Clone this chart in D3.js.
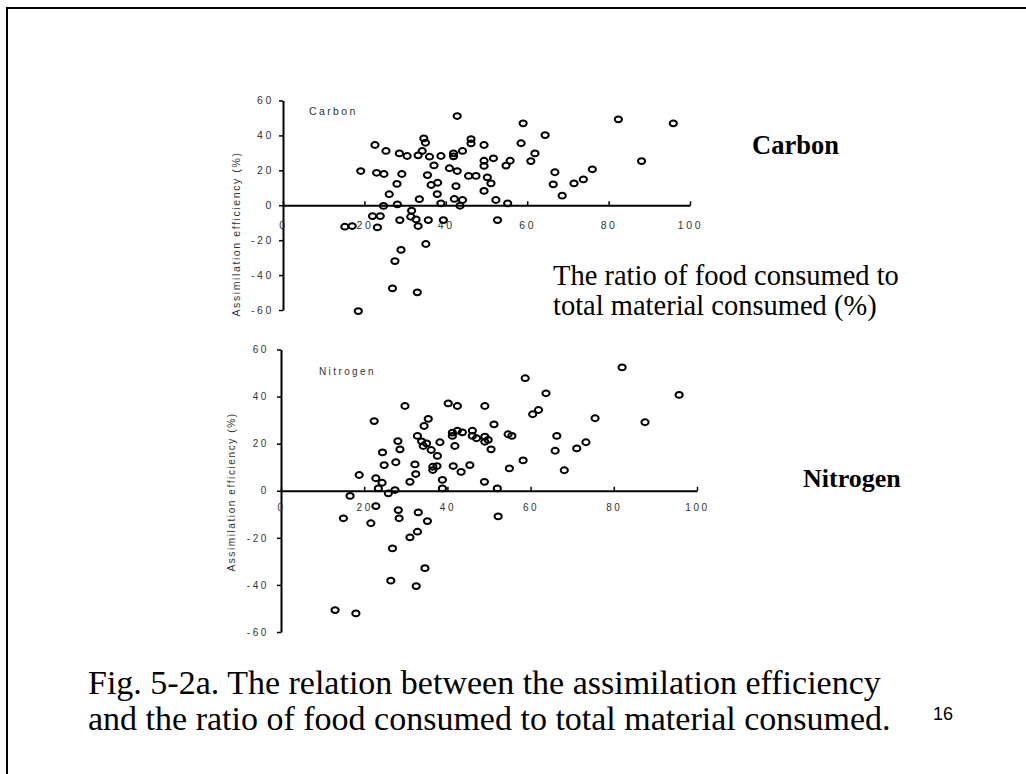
<!DOCTYPE html>
<html>
<head>
<meta charset="utf-8">
<script src="https://cdn.jsdelivr.net/npm/d3@7"></script>
<style>
  html, body { margin: 0; padding: 0; background: #fff; }
  svg { display: block; }
  .tick text, .lbl-small { font-family: "Liberation Sans Narrow", "Arial Narrow", "Liberation Sans", Arial, sans-serif; fill: #333; }
  .serif { font-family: "Liberation Serif", "Times New Roman", serif; fill: #000; }
</style>
</head>
<body>
<svg id="slide" width="1026" height="774"></svg>
<script>
// Ratio of food consumed to total material consumed (%) vs assimilation efficiency (%)
const carbonX = [42.8,22.6,25.3,28.6,30.5,33.2,34.2,34.6,35.0,36.0,38.8,41.9,41.9,44.1,46.2,46.2,19.1,23.0,24.8,29.2,37.1,35.5,40.9,42.8,45.6,47.4,28.0,38.0,36.4,42.5,26.1,37.9,33.5,42.1,44.1,24.7,28.1,38.8,43.5,22.0,23.9,31.6,31.4,32.7,28.7,35.7,39.4,15.2,17.0,23.2,33.2,35.1,29.0,27.5,26.9,33.0,18.5,59.0,82.4,95.9,64.4,49.4,58.5,61.9,51.7,55.8,49.4,49.4,54.8,60.9,88.1,66.8,76.0,50.2,51.1,66.4,71.5,73.8,49.4,68.6,52.3,55.2,52.7];
const carbonY = [51.1,34.5,31.1,29.7,28.2,28.6,31.1,38.3,35.8,27.8,28.2,29.7,28.0,31.1,37.9,35.4,19.6,18.6,17.9,17.9,22.8,17.3,21.2,19.6,16.8,16.8,12.2,12.9,11.6,11.0,6.3,6.4,3.5,3.6,3.0,-0.4,0.5,1.1,-0.3,-6.2,-6.2,-3.1,-6.6,-8.1,-8.5,-8.5,-8.5,-12.3,-11.9,-12.7,-11.9,-22.2,-25.6,-32.0,-47.6,-49.9,-60.6,46.9,49.2,46.9,40.2,34.5,35.5,29.7,26.9,25.5,25.5,22.5,22.7,25.3,25.3,18.9,20.6,16.0,12.5,12.0,12.5,14.8,8.2,5.5,3.0,1.1,-8.5];

const nitrogenX = [29.8,22.4,35.4,34.4,32.8,33.8,35.0,34.2,28.1,28.6,24.4,24.8,27.6,38.2,36.1,37.6,36.5,37.5,36.5,32.2,40.2,42.4,41.2,41.2,42.4,43.6,41.8,41.4,43.3,45.4,18.8,22.8,23.4,24.3,25.8,27.4,31.0,32.4,38.8,38.8,16.6,22.8,15.0,21.6,28.2,28.4,33.0,35.2,32.8,31.0,26.8,34.6,26.4,32.5,13.0,18.0,49.0,46.0,46.0,47.0,49.0,49.0,49.8,48.9,82.0,58.7,95.7,63.7,75.5,61.9,60.5,87.5,51.2,50.5,54.6,55.5,66.3,65.9,71.1,73.3,58.2,54.9,68.1,52.0,52.2];
const nitrogenY = [36.0,29.6,30.5,27.5,23.3,21.0,20.1,19.0,21.1,17.6,16.3,10.9,12.1,20.6,17.3,14.8,10.2,10.5,8.8,11.2,37.1,36.0,24.7,23.3,25.5,24.8,19.0,10.5,8.0,10.9,6.7,5.3,1.0,3.4,-1.1,0.3,3.8,7.1,4.6,1.0,-2.2,-6.5,-11.7,-13.8,-8.2,-11.7,-9.2,-12.9,-17.4,-19.8,-24.5,-32.9,-38.2,-40.5,-50.7,-52.1,36.0,25.5,23.3,22.3,23.0,20.8,21.6,3.8,52.4,47.8,40.7,41.4,30.8,34.3,32.5,29.1,28.2,17.6,24.0,23.3,23.3,17.0,18.0,20.6,12.9,9.5,8.7,1.0,-10.9];

const xTicks = [0, 20, 40, 60, 80, 100];
const yTicks = [-60, -40, -20, 0, 20, 40, 60];
const yTitle = "Assimilation efficiency (%)";

const svg = d3.select("#slide");
svg.append("rect").attr("width", 1026).attr("height", 774).attr("fill", "#fff");

// slide frame (top and left edges)
svg.append("path").attr("d", "M7,774 V8 H1026").attr("fill", "none")
  .attr("stroke", "#000").attr("stroke-width", 2);

function panel(cfg) {
  const x = d3.scaleLinear().domain([0, 100]).range(cfg.xRange);
  const y = d3.scaleLinear().domain([-60, 60]).range(cfg.yRange);
  const g = svg.append("g");

  // y axis
  const ya = g.append("g").attr("transform", `translate(${x(0)},0)`)
    .call(d3.axisLeft(y).tickValues(yTicks).tickSizeInner(4).tickSizeOuter(0).tickPadding(cfg.yPad)
      .tickFormat(d => d < 0 ? "-" + Math.abs(d) : String(d)));
  ya.select(".domain").attr("stroke-width", 2);
  ya.selectAll(".tick line").attr("stroke-width", 1.5);
  ya.selectAll(".tick text").style("font-size", cfg.fs + "px").style("letter-spacing", "2.6px");

  // x axis along y = 0
  const xa = g.append("g").attr("transform", `translate(0,${y(0)})`)
    .call(d3.axisBottom(x).tickValues(xTicks).tickSizeInner(-4).tickSizeOuter(0).tickPadding(cfg.xPad)
      .tickFormat(d => String(d)));
  xa.select(".domain").attr("stroke-width", 2);
  xa.selectAll(".tick line").attr("stroke-width", 1.5);
  xa.selectAll(".tick text").style("font-size", cfg.fs + "px").style("letter-spacing", "2.6px");

  // axis title
  g.append("text").attr("class", "lbl-small")
    .attr("transform", `translate(${cfg.titleX},${cfg.titleY}) rotate(-90)`)
    .attr("text-anchor", "middle").attr("dominant-baseline", "middle")
    .style("font-size", cfg.fs + "px").style("letter-spacing", "1.6px")
    .text(yTitle);

  // series name inside the plot
  g.append("text").attr("class", "lbl-small")
    .attr("x", cfg.nameX).attr("y", cfg.nameY).attr("dominant-baseline", "middle")
    .style("font-size", cfg.fs + "px").style("letter-spacing", "2.4px")
    .text(cfg.name);

  // scatter markers
  g.append("g").selectAll("ellipse").data(d3.range(cfg.xs.length)).join("ellipse")
    .attr("cx", i => x(cfg.xs[i])).attr("cy", i => y(cfg.ys[i]))
    .attr("rx", 3.6).attr("ry", 2.9)
    .attr("fill", "none").attr("stroke", "#000").attr("stroke-width", 2);
}

panel({
  name: "Carbon", xs: carbonX, ys: carbonY,
  xRange: [283, 690], yRange: [310, 100.5],
  yPad: 5, xPad: 16, fs: 10.5,
  titleX: 237, titleY: 234, nameX: 309, nameY: 112
});

panel({
  name: "Nitrogen", xs: nitrogenX, ys: nitrogenY,
  xRange: [281, 697], yRange: [632, 349.5],
  yPad: 8, xPad: 13, fs: 10,
  titleX: 232, titleY: 492, nameX: 319, nameY: 372
});

// side labels
svg.append("text").attr("class", "serif").attr("x", 752).attr("y", 154)
  .style("font-size", "26.5px").style("font-weight", "bold").text("Carbon");
svg.append("text").attr("class", "serif").attr("x", 803).attr("y", 487)
  .style("font-size", "26px").style("font-weight", "bold").text("Nitrogen");
svg.append("text").attr("class", "serif").attr("x", 553).attr("y", 285)
  .style("font-size", "28.5px").text("The ratio of food consumed to");
svg.append("text").attr("class", "serif").attr("x", 553).attr("y", 315)
  .style("font-size", "28.5px").text("total material consumed (%)");

// caption
svg.append("text").attr("class", "serif").attr("x", 88).attr("y", 694)
  .style("font-size", "34px").text("Fig. 5-2a. The relation between the assimilation efficiency");
svg.append("text").attr("class", "serif").attr("x", 88).attr("y", 730)
  .style("font-size", "34px").text("and the ratio of food consumed to total material consumed.");

// page number
svg.append("text").attr("x", 933).attr("y", 720)
  .style("font-family", "Liberation Sans, Arial, sans-serif").style("font-size", "18px")
  .text("16");
</script>
</body>
</html>
